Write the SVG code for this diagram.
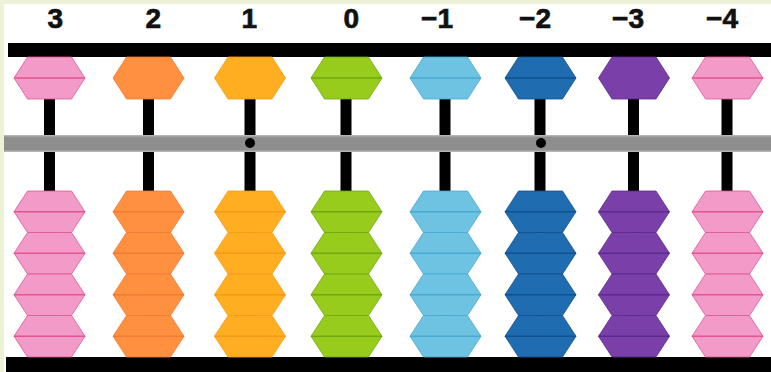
<svg xmlns="http://www.w3.org/2000/svg" width="771" height="372" viewBox="0 0 771 372">
<style>
.lbl{font-family:"Liberation Sans",Arial,sans-serif;font-weight:bold;font-size:28px;fill:#111;stroke:#111;stroke-width:0.7;text-anchor:end}
.rod{fill:#000}
.bar{fill:#000}
.beam{fill:#8e8e8e}
.mid{stroke-width:1.3;fill:none}
.b{stroke-width:0.8}
.pink{fill:#f29ac8;stroke:#e2558f}
.org{fill:#ff9040;stroke:#f37a35}
.yel{fill:#ffae22;stroke:#f59a18}
.grn{fill:#98cc1c;stroke:#6ea812}
.lbl2{fill:#6ec2e2;stroke:#48aad2}
.dbl{fill:#1f6cb0;stroke:#12508f}
.pur{fill:#7a3fa8;stroke:#5a2a8e}
</style>
<defs>
<polygon id="hex" points="-22,0 22,0 35.5,21 22,42 -22,42 -35.5,21"/>
<polygon id="hexL" points="-22,0 22,0 35.5,20.75 22,41.5 -22,41.5 -35.5,20.75"/>
</defs>
<rect x="0" y="0" width="771" height="372" fill="#edf1d6"/>
<rect x="4" y="4" width="767" height="368" fill="#fff"/>
<g id="labels">
<text class="lbl" x="63" y="28">3</text>
<text class="lbl" x="161" y="28">2</text>
<text class="lbl" x="257" y="28">1</text>
<text class="lbl" x="359" y="28">0</text>
<text class="lbl" x="453" y="28">−1</text>
<text class="lbl" x="551" y="28">−2</text>
<text class="lbl" x="644" y="28">−3</text>
<text class="lbl" x="738" y="28">−4</text>
</g>
<g id="rods">
<rect class="rod" x="44" y="57" width="11" height="300"/>
<rect class="rod" x="143" y="57" width="11" height="300"/>
<rect class="rod" x="244.5" y="57" width="11" height="300"/>
<rect class="rod" x="340.5" y="57" width="11" height="300"/>
<rect class="rod" x="439.5" y="57" width="11" height="300"/>
<rect class="rod" x="534.5" y="57" width="11" height="300"/>
<rect class="rod" x="628" y="57" width="11" height="300"/>
<rect class="rod" x="721.5" y="57" width="11" height="300"/>
</g>
<g id="frame">
<rect class="bar" x="8" y="43" width="763" height="14"/>
<rect class="beam" x="4" y="135" width="767" height="17"/>
<rect x="4" y="135" width="767" height="1.5" fill="#b5b5b5"/>
<rect x="4" y="150.5" width="767" height="1.5" fill="#b5b5b5"/>
<circle cx="250" cy="143" r="5" fill="#000"/>
<circle cx="541" cy="143" r="5" fill="#000"/>
<rect class="bar" x="6" y="357" width="765" height="15"/>
</g>
<g id="col-3" class="pink">
<use href="#hex" class="b" x="49.5" y="57"/><line class="mid" x1="14" y1="78" x2="85" y2="78"/>
<use href="#hexL" class="b" x="49.5" y="191"/><line class="mid" x1="14" y1="211.75" x2="85" y2="211.75"/>
<use href="#hexL" class="b" x="49.5" y="232.5"/><line class="mid" x1="14" y1="253.25" x2="85" y2="253.25"/>
<use href="#hexL" class="b" x="49.5" y="274"/><line class="mid" x1="14" y1="294.75" x2="85" y2="294.75"/>
<use href="#hexL" class="b" x="49.5" y="315.5"/><line class="mid" x1="14" y1="336.25" x2="85" y2="336.25"/>
</g>
<g id="col-2" class="org">
<use href="#hex" class="b" x="148.5" y="57"/>
<use href="#hexL" class="b" x="148.5" y="191"/><line class="mid" x1="113" y1="211.75" x2="184" y2="211.75"/>
<use href="#hexL" class="b" x="148.5" y="232.5"/><line class="mid" x1="113" y1="253.25" x2="184" y2="253.25"/>
<use href="#hexL" class="b" x="148.5" y="274"/><line class="mid" x1="113" y1="294.75" x2="184" y2="294.75"/>
<use href="#hexL" class="b" x="148.5" y="315.5"/><line class="mid" x1="113" y1="336.25" x2="184" y2="336.25"/>
</g>
<g id="col-1" class="yel">
<use href="#hex" class="b" x="250" y="57"/>
<use href="#hexL" class="b" x="250" y="191"/><line class="mid" x1="214.5" y1="211.75" x2="285.5" y2="211.75"/>
<use href="#hexL" class="b" x="250" y="232.5"/><line class="mid" x1="214.5" y1="253.25" x2="285.5" y2="253.25"/>
<use href="#hexL" class="b" x="250" y="274"/><line class="mid" x1="214.5" y1="294.75" x2="285.5" y2="294.75"/>
<use href="#hexL" class="b" x="250" y="315.5"/><line class="mid" x1="214.5" y1="336.25" x2="285.5" y2="336.25"/>
</g>
<g id="col-0" class="grn">
<use href="#hex" class="b" x="346.5" y="57"/><line class="mid" x1="311" y1="78" x2="382" y2="78"/>
<use href="#hexL" class="b" x="346.5" y="191"/><line class="mid" x1="311" y1="211.75" x2="382" y2="211.75"/>
<use href="#hexL" class="b" x="346.5" y="232.5"/><line class="mid" x1="311" y1="253.25" x2="382" y2="253.25"/>
<use href="#hexL" class="b" x="346.5" y="274"/><line class="mid" x1="311" y1="294.75" x2="382" y2="294.75"/>
<use href="#hexL" class="b" x="346.5" y="315.5"/><line class="mid" x1="311" y1="336.25" x2="382" y2="336.25"/>
</g>
<g id="col-m1" class="lbl2">
<use href="#hex" class="b" x="445.5" y="57"/><line class="mid" x1="410" y1="78" x2="481" y2="78"/>
<use href="#hexL" class="b" x="445.5" y="191"/><line class="mid" x1="410" y1="211.75" x2="481" y2="211.75"/>
<use href="#hexL" class="b" x="445.5" y="232.5"/><line class="mid" x1="410" y1="253.25" x2="481" y2="253.25"/>
<use href="#hexL" class="b" x="445.5" y="274"/><line class="mid" x1="410" y1="294.75" x2="481" y2="294.75"/>
<use href="#hexL" class="b" x="445.5" y="315.5"/><line class="mid" x1="410" y1="336.25" x2="481" y2="336.25"/>
</g>
<g id="col-m2" class="dbl">
<use href="#hex" class="b" x="540.5" y="57"/><line class="mid" x1="505" y1="78" x2="576" y2="78"/>
<use href="#hexL" class="b" x="540.5" y="191"/><line class="mid" x1="505" y1="211.75" x2="576" y2="211.75"/>
<use href="#hexL" class="b" x="540.5" y="232.5"/><line class="mid" x1="505" y1="253.25" x2="576" y2="253.25"/>
<use href="#hexL" class="b" x="540.5" y="274"/><line class="mid" x1="505" y1="294.75" x2="576" y2="294.75"/>
<use href="#hexL" class="b" x="540.5" y="315.5"/><line class="mid" x1="505" y1="336.25" x2="576" y2="336.25"/>
</g>
<g id="col-m3" class="pur">
<use href="#hex" class="b" x="634" y="57"/>
<use href="#hexL" class="b" x="634" y="191"/><line class="mid" x1="598.5" y1="211.75" x2="669.5" y2="211.75"/>
<use href="#hexL" class="b" x="634" y="232.5"/><line class="mid" x1="598.5" y1="253.25" x2="669.5" y2="253.25"/>
<use href="#hexL" class="b" x="634" y="274"/><line class="mid" x1="598.5" y1="294.75" x2="669.5" y2="294.75"/>
<use href="#hexL" class="b" x="634" y="315.5"/><line class="mid" x1="598.5" y1="336.25" x2="669.5" y2="336.25"/>
</g>
<g id="col-m4" class="pink">
<use href="#hex" class="b" x="727.5" y="57"/><line class="mid" x1="692" y1="78" x2="763" y2="78"/>
<use href="#hexL" class="b" x="727.5" y="191"/><line class="mid" x1="692" y1="211.75" x2="763" y2="211.75"/>
<use href="#hexL" class="b" x="727.5" y="232.5"/><line class="mid" x1="692" y1="253.25" x2="763" y2="253.25"/>
<use href="#hexL" class="b" x="727.5" y="274"/><line class="mid" x1="692" y1="294.75" x2="763" y2="294.75"/>
<use href="#hexL" class="b" x="727.5" y="315.5"/><line class="mid" x1="692" y1="336.25" x2="763" y2="336.25"/>
</g>
</svg>
